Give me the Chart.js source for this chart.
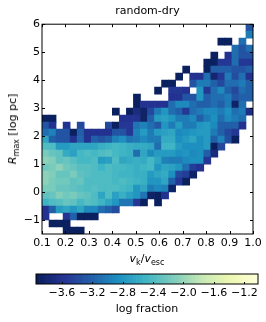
<!DOCTYPE html>
<html>
<head>
<meta charset="utf-8">
<script src="https://cdn.jsdelivr.net/npm/chart.js@4"></script>
<style>
    html, body { margin: 0; padding: 0; background: #fff; }
    body { position: relative; width: 266px; height: 322px; overflow: hidden; font-family: "DejaVu Sans", sans-serif; color: #000; }
    canvas { position: absolute; left: 0; }
    #main { top: 0; }
    #bar { top: 264px; }
    .label { position: absolute; font-size: 11px; line-height: 14px; white-space: nowrap; transform: translate(-50%, -50%); }
    .label sub { font-size: 8px; line-height: 0; vertical-align: -3px; }
    #ylabel { left: 13px; top: 129px; transform: translate(-50%, -50%) rotate(-90deg); }
    #xlabel { left: 147px; top: 259px; }
</style>
</head>
<body>
<canvas id="main" width="266" height="264"></canvas>
<canvas id="bar" width="266" height="58"></canvas>
<div class="label" id="ylabel"><i>R</i><sub>max</sub> [log pc]</div>
<div class="label" id="xlabel"><i>v</i><sub>k</sub>/<i>v</i><sub>esc</sub></div>
<script>
const _ = null;

// bin layout of the 2d histogram
const xStart = 0.1, xBin = 0.03;
const yTop = 6, yBin = 0.25;

const xTicks = [0.1, 0.2, 0.3, 0.4, 0.5, 0.6, 0.7, 0.8, 0.9, 1.0];
const yTicks = [-1, 0, 1, 2, 3, 4, 5, 6];
const barTicks = [-3.6, -3.2, -2.8, -2.4, -2.0, -1.6, -1.2];

const vMin = -3.94, vMax = -1.02;

// log fraction per cell, top row (y = 6) first
const logFraction = [
    [_,_,_,_,_,_,_,_,_,_,_,_,_,_,_,_,_,_,_,_,_,_,_,_,_,_,_,_,_,-3.3],
    [_,_,_,_,_,_,_,_,_,_,_,_,_,_,_,_,_,_,_,_,_,_,_,_,_,_,_,_,_,-3.0],
    [_,_,_,_,_,_,_,_,_,_,_,_,_,_,_,_,_,_,_,_,_,_,_,_,_,-3.9,-3.9,_,-3.1,_],
    [_,_,_,_,_,_,_,_,_,_,_,_,_,_,_,_,_,_,_,_,_,_,_,_,_,_,_,-3.1,-3.3,-3.1],
    [_,_,_,_,_,_,_,_,_,_,_,_,_,_,_,_,_,_,_,_,_,_,_,_,-3.9,_,-3.6,-3.1,-3.3,-3.3],
    [_,_,_,_,_,_,_,_,_,_,_,_,_,_,_,_,_,_,_,_,_,_,_,-3.9,-3.9,-3.55,-3.55,-3.1,-3.55,-3.55],
    [_,_,_,_,_,_,_,_,_,_,_,_,_,_,_,_,_,_,_,_,-3.9,_,_,-3.9,-3.2,-3.2,-3.2,-3.3,-3.3,-3.2],
    [_,_,_,_,_,_,_,_,_,_,_,_,_,_,_,_,_,_,_,-3.9,_,-3.6,-3.6,-3.1,-3.8,-3.55,-3.0,-3.35,-3.1,-3.6],
    [_,_,_,_,_,_,_,_,_,_,_,_,_,_,_,_,_,-3.9,-3.9,_,_,-3.3,-3.0,-3.0,-3.2,-3.4,-3.1,-3.1,-3.0,-3.2],
    [_,_,_,_,_,_,_,_,_,_,_,_,_,_,_,_,-3.9,_,-3.55,-3.55,-3.6,_,-2.8,-3.55,-3.1,-2.9,-3.2,-3.4,-3.1,-3.2],
    [_,_,_,_,_,_,_,_,_,_,_,_,_,-3.9,_,_,_,_,-3.6,-3.6,-3.3,-3.3,-2.8,-3.2,-3.1,-3.1,-3.0,-3.3,-3.2,-3.2],
    [_,_,_,_,_,_,_,_,_,_,_,_,_,-3.9,-3.6,-3.6,-3.6,-3.6,-3.1,-2.9,-2.9,-3.1,-3.2,-3.2,-3.1,-3.2,-3.0,-3.85,-3.1,_],
    [_,_,_,_,_,_,_,_,_,_,-3.9,_,-3.9,-3.7,-3.85,-3.4,-3.0,-2.8,-3.1,-3.2,-3.55,-3.1,-3.0,-2.9,-2.9,-3.0,-2.85,-3.1,-3.0,-3.65],
    [-3.9,-3.9,_,_,_,_,_,_,_,_,_,-3.6,-3.6,-3.6,-3.85,-3.2,-2.75,-2.7,-2.8,-3.0,-3.0,-2.9,-3.2,-3.0,-2.85,-3.1,-2.9,-3.0,-3.1,_],
    [-3.3,-3.6,_,-3.6,_,-3.4,_,_,_,-3.4,-3.9,-3.55,-3.55,-3.05,-2.95,-3.1,-3.25,-2.8,-3.0,-2.75,-3.0,-3.0,-2.8,-2.75,-2.9,-3.2,-3.2,-3.2,-3.6,_],
    [-3.1,-2.95,-3.3,-3.3,-3.9,-3.2,-3.6,-3.6,-3.6,-3.6,-3.3,-3.3,-3.55,-2.95,-2.75,-3.0,-2.75,-2.7,-2.65,-2.9,-2.85,-2.8,-2.75,-2.75,-3.0,-3.2,-3.4,-3.55,_,_],
    [-2.65,-3.2,-3.3,-3.3,-3.6,-3.15,-3.6,-3.2,-3.3,-3.2,-2.95,-2.85,-3.05,-3.0,-2.9,-3.0,-3.0,-2.6,-2.6,-2.85,-2.75,-2.65,-2.85,-2.75,-3.2,-2.95,-3.35,-3.9,_,_],
    [-2.4,-2.4,-2.75,-2.75,-2.65,-2.65,-2.65,-2.65,-2.55,-2.5,-2.45,-2.5,-2.55,-2.6,-2.6,-2.65,-3.1,-2.5,-2.5,-2.75,-2.85,-2.85,-2.85,-2.75,-3.9,-3.4,_,_,_,_],
    [-2.15,-2.25,-2.3,-2.6,-2.7,-2.45,-2.4,-2.45,-2.4,-2.35,-2.45,-2.5,-2.55,-3.1,-2.65,-2.9,-2.75,-2.75,-2.75,-2.85,-2.8,-2.9,-2.85,-3.2,-3.7,_,_,_,_,_],
    [-2.05,-2.1,-2.3,-2.25,-2.35,-2.45,-2.45,-2.4,-2.75,-2.7,-2.4,-2.65,-2.6,-2.55,-2.6,-2.45,-2.65,-2.95,-3.0,-3.0,-2.9,-2.85,-2.85,-3.55,_,_,_,_,_,_],
    [-2.2,-2.15,-2.05,-2.2,-2.25,-2.35,-2.35,-2.4,-2.5,-2.4,-2.45,-2.45,-2.5,-2.55,-2.5,-2.45,-2.8,-2.65,-2.7,-2.8,-3.1,-3.5,-3.6,_,_,_,_,_,_,_],
    [-2.05,-2.1,-2.25,-2.25,-2.15,-2.3,-2.35,-2.4,-2.4,-2.4,-2.45,-2.5,-2.5,-2.55,-2.55,-2.75,-2.65,-2.6,-2.85,-3.4,-3.5,-3.85,_,_,_,_,_,_,_,_],
    [-2.05,-2.15,-2.2,-2.2,-2.3,-2.25,-2.4,-2.4,-2.4,-2.4,-2.45,-2.4,-2.45,-2.5,-2.55,-2.8,-2.8,-2.65,-3.2,-3.55,-3.9,_,_,_,_,_,_,_,_,_],
    [-2.15,-2.15,-2.25,-2.25,-2.3,-2.35,-2.4,-2.35,-2.4,-2.4,-2.4,-2.45,-2.5,-2.8,-2.65,-3.0,-2.9,-2.95,-3.85,_,_,_,_,_,_,_,_,_,_,_],
    [-2.3,-2.25,-2.1,-2.2,-2.15,-2.25,-2.3,-2.4,-2.65,-2.4,-2.7,-2.55,-2.7,-2.8,-3.05,-3.85,-3.9,-3.6,_,_,_,_,_,_,_,_,_,_,_,_],
    [-2.5,-2.4,-2.35,-2.25,-2.3,-2.45,-2.35,-2.4,-2.5,-2.65,-2.8,-3.05,-3.05,-3.55,-3.9,_,-3.9,_,_,_,_,_,_,_,_,_,_,_,_,_],
    [-3.6,-3.2,-2.75,-2.65,-2.8,-2.65,-2.9,-2.9,-3.1,-3.2,-3.35,_,_,_,_,_,_,_,_,_,_,_,_,_,_,_,_,_,_,_],
    [-3.6,_,_,-3.6,-3.2,-3.9,-3.9,-3.9,_,_,_,_,_,_,_,_,_,_,_,_,_,_,_,_,_,_,_,_,_,_],
    [_,-3.9,-3.9,-3.9,_,_,_,_,_,_,_,_,_,_,_,_,_,_,_,_,_,_,_,_,_,_,_,_,_,_],
    [_,_,_,-3.9,-3.9,-3.9,_,_,_,_,_,_,_,_,_,_,_,_,_,_,_,_,_,_,_,_,_,_,_,_]
];

// YlGnBu reversed, same stops matplotlib uses
const cmapStops = ['#081d58', '#253494', '#225ea8', '#1d91c0', '#41b6c4', '#7fcdbb', '#c7e9b4', '#edf8b1', '#ffffd9'];

function hexToRgb(hex) {
    return [1, 3, 5].map(i => parseInt(hex.slice(i, i + 2), 16));
}

function valueColor(v) {
    const t = Math.min(1, Math.max(0, (v - vMin) / (vMax - vMin))) * (cmapStops.length - 1);
    const i = Math.min(cmapStops.length - 2, Math.floor(t));
    const a = hexToRgb(cmapStops[i]);
    const b = hexToRgb(cmapStops[i + 1]);
    const rgb = a.map((c, k) => Math.round(c + (b[k] - c) * (t - i)));
    return `rgb(${rgb.join(',')})`;
}

const cells = [];
const cellColors = [];
logFraction.forEach((row, r) => {
    row.forEach((v, c) => {
        if (v === null) return;
        cells.push({ x: xStart + xBin * (c + 0.5), y: [yTop - yBin * (r + 1), yTop - yBin * r] });
        cellColors.push(valueColor(v));
    });
});

// colorbar swatches, one thin bar per colormap level
const barLevels = 64;
const barCells = [];
const barColors = [];
for (let i = 0; i < barLevels; i++) {
    const v = vMin + (vMax - vMin) * (i + 0.5) / barLevels;
    barCells.push({ x: v, y: [0, 1] });
    barColors.push(valueColor(v));
}

// old matplotlib look: frame plus ticks pointing inwards
const inwardTicks = {
    id: 'inwardTicks',
    afterDatasetsDraw(chart, args, opts) {
        const { ctx, chartArea: a, scales } = chart;
        ctx.save();
        ctx.strokeStyle = '#000';
        ctx.lineWidth = 1;
        ctx.beginPath();
        xTickList(chart).forEach(v => {
            const px = Math.round(scales.x.getPixelForValue(v)) + 0.5;
            ctx.moveTo(px, a.bottom);
            ctx.lineTo(px, a.bottom - opts.len);
            if (opts.mirror) {
                ctx.moveTo(px, a.top);
                ctx.lineTo(px, a.top + opts.len);
            }
        });
        if (opts.mirror) {
            yTicks.forEach(v => {
                const py = Math.round(scales.y.getPixelForValue(v)) + 0.5;
                ctx.moveTo(a.left, py);
                ctx.lineTo(a.left + opts.len, py);
                ctx.moveTo(a.right, py);
                ctx.lineTo(a.right - opts.len, py);
            });
        }
        ctx.stroke();
        ctx.strokeRect(a.left, a.top, a.right - a.left, a.bottom - a.top);
        ctx.restore();
    }
};

function xTickList(chart) {
    return chart.canvas.id === 'main' ? xTicks : barTicks;
}

const tickFont = { family: '"DejaVu Sans"', size: 11 };

function setTicks(list) {
    return scale => { scale.ticks = list.map(value => ({ value })); };
}

function minusSign(text) {
    return String(text).replace('-', '\u2212');
}

new Chart(document.getElementById('main'), {
    type: 'bar',
    data: {
        datasets: [{
            data: cells,
            backgroundColor: cellColors,
            borderWidth: 0,
            barPercentage: 1,
            categoryPercentage: 1
        }]
    },
    plugins: [inwardTicks],
    options: {
        responsive: false,
        animation: false,
        layout: { padding: { right: 13 } },
        plugins: {
            legend: { display: false },
            tooltip: { enabled: false },
            inwardTicks: { len: 3, mirror: true },
            title: {
                display: true,
                text: 'random-dry',
                color: '#000',
                fullSize: false,
                font: { family: '"DejaVu Sans"', size: 11, weight: 'normal' },
                padding: { top: 5, bottom: 6 }
            }
        },
        scales: {
            x: {
                type: 'linear',
                min: 0.1,
                max: 1.0,
                offset: false,
                afterBuildTicks: setTicks(xTicks),
                afterFit: scale => { scale.height = 30; },
                grid: { display: false, drawTicks: false, offset: false },
                border: { display: false },
                ticks: {
                    color: '#000',
                    font: tickFont,
                    padding: 3,
                    maxRotation: 0,
                    autoSkip: false,
                    callback: v => v.toFixed(1)
                }
            },
            y: {
                min: -1.5,
                max: 6,
                afterBuildTicks: setTicks(yTicks),
                afterFit: scale => { scale.width = 42; },
                grid: { display: false, drawTicks: false },
                border: { display: false },
                ticks: {
                    color: '#000',
                    font: tickFont,
                    padding: 2,
                    autoSkip: false,
                    callback: v => minusSign(v)
                }
            }
        }
    }
});

new Chart(document.getElementById('bar'), {
    type: 'bar',
    data: {
        datasets: [{
            data: barCells,
            backgroundColor: barColors,
            borderWidth: 0,
            barPercentage: 1,
            categoryPercentage: 1
        }]
    },
    plugins: [inwardTicks],
    options: {
        responsive: false,
        animation: false,
        layout: { padding: { left: 0, right: 8, top: 10, bottom: 6 } },
        plugins: {
            legend: { display: false },
            tooltip: { enabled: false },
            inwardTicks: { len: 2, mirror: false }
        },
        scales: {
            x: {
                type: 'linear',
                min: vMin,
                max: vMax,
                offset: false,
                afterBuildTicks: setTicks(barTicks),
                afterFit: scale => { scale.height = 32; },
                grid: { display: false, drawTicks: false, offset: false },
                border: { display: false },
                title: {
                    display: true,
                    text: 'log fraction',
                    color: '#000',
                    font: tickFont,
                    padding: 0
                },
                ticks: {
                    color: '#000',
                    font: tickFont,
                    padding: 3,
                    maxRotation: 0,
                    autoSkip: false,
                    callback: v => minusSign(v.toFixed(1))
                }
            },
            y: {
                min: 0,
                max: 1,
                display: false,
                afterFit: scale => { scale.width = 36; }
            }
        }
    }
});
</script>
</body>
</html>
